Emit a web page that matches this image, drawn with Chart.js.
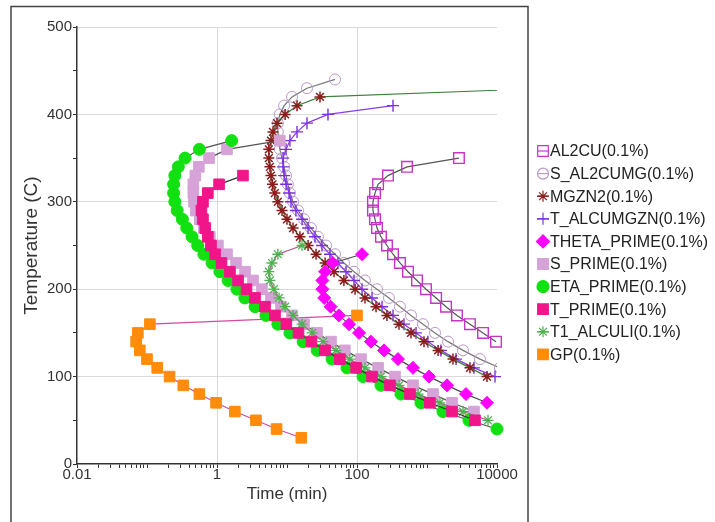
<!DOCTYPE html>
<html>
<head>
<meta charset="utf-8">
<title>TTT diagram</title>
<script src="https://cdn.jsdelivr.net/npm/chart.js@4.4.1/dist/chart.umd.min.js"></script>
<style>
  html, body { margin: 0; padding: 0; background: #fff; }
  #wrap { width: 715px; height: 522px; }
</style>
</head>
<body>
<div id="wrap"><canvas id="ttt" width="715" height="522"></canvas></div>
<script>
// ── Precipitation curves: temperature (C) vs time (min) ─────────────────────

const AL2CU_TEMP = [350, 340, 330, 320, 310, 300, 290, 280, 270, 260, 250, 240, 230, 220, 210, 200, 190, 180, 170, 160, 150, 140];
const AL2CU_TIME = [2860, 518, 277, 200, 181, 169, 169, 181, 193, 220, 268, 327, 411, 535, 720, 968, 1350, 1870, 2680, 4110, 6310, 9680];

const S_AL2CUMG_TEMP = [440, 430, 420, 410, 400, 390, 380, 370, 360, 350, 340, 330, 320, 310, 300, 290, 280, 270, 260, 250, 240, 230, 220, 210, 200, 190, 180, 170, 160, 150, 140, 130, 120, 110];
const S_AL2CUMG_TIME = [48.5, 19.3, 11.8, 9.1, 7.9, 7.4, 7.4, 7.7, 7.9, 8.5, 9.1, 9.7, 10.3, 11.0, 12.2, 14.4, 17.5, 22.0, 27.7, 36.1, 48.5, 65.2, 90.6, 130, 193, 286, 411, 591, 877, 1300, 2000, 3270, 5710, 11000];

const MGZN2_TEMP = [430, 420, 410, 400, 390, 380, 370, 360, 350, 340, 330, 320, 310, 300, 290, 280, 270, 260, 250, 240, 230, 220, 210, 200, 190, 180, 170, 160, 150, 140, 130, 120, 110, 100];
const MGZN2_TIME = [60000, 29.6, 13.9, 9.4, 7.2, 6.3, 5.9, 5.5, 5.5, 5.7, 5.9, 6.2, 6.7, 7.4, 8.5, 10, 12.2, 15.3, 20, 26, 35, 47, 65, 94, 130, 187, 268, 398, 591, 906, 1440, 2350, 4110, 7200];

const T_ALCUMGZN_TEMP = [410, 400, 390, 380, 370, 360, 350, 340, 330, 320, 310, 300, 290, 280, 270, 260, 250, 240, 230, 220, 210, 200, 190, 180, 170, 160, 150, 140, 130, 120, 110, 100];
const T_ALCUMGZN_TIME = [327, 38.5, 19.3, 13.9, 11.0, 9.7, 8.8, 8.8, 9.1, 9.7, 10.7, 11.4, 13.4, 16.4, 20, 25.1, 31.6, 41.1, 53.5, 69.6, 90.6, 118, 164, 228, 327, 469, 697, 1030, 1580, 2600, 4690, 9370];

const THETA_PRIME_TEMP = [240, 230, 220, 210, 200, 190, 180, 170, 160, 150, 140, 130, 120, 110, 100, 90, 80, 70];
const THETA_PRIME_TIME = [118, 45, 35, 32, 32, 34, 42, 55, 77, 107, 158, 243, 385, 631, 1070, 1930, 3610, 7200];

const S_PRIME_TEMP = [370, 360, 350, 340, 330, 320, 310, 300, 290, 280, 270, 260, 250, 240, 230, 220, 210, 200, 190, 180, 170, 160, 150, 140, 130, 120, 110, 100, 90, 80, 70, 60];
const S_PRIME_TIME = [7.9, 1.39, 0.77, 0.55, 0.49, 0.46, 0.46, 0.47, 0.50, 0.57, 0.65, 0.79, 1.03, 1.39, 1.87, 2.51, 3.27, 4.39, 5.9, 8.2, 11.8, 17.5, 26.8, 42.5, 67, 114, 200, 349, 631, 1220, 2280, 4690];

const ETA_PRIME_TEMP = [370, 360, 350, 340, 330, 320, 310, 300, 290, 280, 270, 260, 250, 240, 230, 220, 210, 200, 190, 180, 170, 160, 150, 140, 130, 120, 110, 100, 90, 80, 70, 60, 50, 40];
const ETA_PRIME_TIME = [1.62, 0.56, 0.35, 0.28, 0.25, 0.24, 0.24, 0.25, 0.27, 0.32, 0.37, 0.44, 0.53, 0.65, 0.85, 1.1, 1.44, 1.93, 2.5, 3.5, 5.0, 7.4, 11, 17, 27, 44, 72, 122, 220, 425, 820, 1690, 3980, 10000];

const T_PRIME_TEMP = [330, 320, 310, 300, 290, 280, 270, 260, 250, 240, 230, 220, 210, 200, 190, 180, 170, 160, 150, 140, 130, 120, 110, 100, 90, 80, 70, 60, 50];
const T_PRIME_TIME = [2.35, 1.07, 0.74, 0.63, 0.60, 0.63, 0.68, 0.74, 0.82, 0.94, 1.16, 1.53, 2.0, 2.64, 3.49, 4.85, 6.74, 9.8, 14.6, 22.4, 35, 57, 97, 164, 296, 571, 1100, 2280, 4850];

const T1_ALCULI_TEMP = [250, 240, 230, 220, 210, 200, 190, 180, 170, 160, 150, 140, 130, 120, 110, 100, 90, 80, 70, 60, 50];
const T1_ALCULI_TIME = [16.4, 7.4, 6.1, 5.5, 5.7, 6.5, 7.7, 9.4, 12.2, 16.4, 22.8, 32.7, 50, 79, 130, 220, 398, 743, 1530, 3270, 7440];

const GP_TEMP = [170, 160, 150, 140, 130, 120, 110, 100, 90, 80, 70, 60, 50, 40, 30];
const GP_TIME = [100, 0.11, 0.074, 0.07, 0.079, 0.1, 0.14, 0.21, 0.33, 0.56, 0.97, 1.8, 3.6, 7.1, 16];

// ── Axes ─────────────────────────────────────────────────────────────────────

const X_MIN = 0.01;
const X_MAX = 10000;
const X_DECADES = [0.01, 0.1, 1, 10, 100, 1000];
const X_MULTIPLES = [1, 2, 3, 4, 5, 6, 7, 8, 9];
const X_LABELS = [0.01, 1, 100, 10000];
const X_GRID = [1, 100];

const Y_MIN = 0;
const Y_MAX = 500;
const Y_STEP = 50;
const Y_LABEL_STEP = 100;

const X_TICKS = X_DECADES.flatMap(d => X_MULTIPLES.map(m => m * d)).concat([X_MAX]);

const sameValue = (a, b) => Math.abs(a - b) < Math.abs(b) * 1e-6;

const FONT = '"Liberation Sans", Arial, sans-serif';
const GRID_COLOR = '#d9d9d9';
const AXIS_COLOR = '#333';
const CLEAR = 'rgba(0,0,0,0)';

function points(times, temps) {
    return times.map((t, i) => ({ x: t, y: temps[i] }));
}

function series(label, times, temps, style) {
    return Object.assign({
        label,
        data: points(times, temps),
        showLine: true,
        borderWidth: 1.2,
        pointBorderWidth: 1,
        tension: 0,
        clip: 8,
    }, style);
}

// legend order = dataset order; "order" decides which curve sits on top
const datasets = [
    series('AL2CU(0.1%)', AL2CU_TIME, AL2CU_TEMP, {
        borderColor: '#555', pointStyle: 'rect', pointRadius: 7.5, pointBorderWidth: 1.4,
        pointBorderColor: '#c535c5', pointBackgroundColor: CLEAR, order: 9,
    }),
    series('S_AL2CUMG(0.1%)', S_AL2CUMG_TIME, S_AL2CUMG_TEMP, {
        borderColor: '#777', pointStyle: 'circle', pointRadius: 5.5,
        pointBorderColor: '#b99ac9', pointBackgroundColor: CLEAR, order: 8, clip: 0,
    }),
    series('MGZN2(0.1%)', MGZN2_TIME, MGZN2_TEMP, {
        borderColor: '#3f7f3f', pointStyle: 'star', pointRadius: 5.5, pointBorderWidth: 1.5,
        pointBorderColor: '#8b1c1c', pointBackgroundColor: '#8b1c1c', order: 6, clip: 0,
    }),
    series('T_ALCUMGZN(0.1%)', T_ALCUMGZN_TIME, T_ALCUMGZN_TEMP, {
        borderColor: '#8a3ce6', pointStyle: 'cross', pointRadius: 6, pointBorderWidth: 1.4,
        pointBorderColor: '#7b2fe0', pointBackgroundColor: '#7b2fe0', order: 7,
    }),
    series('THETA_PRIME(0.1%)', THETA_PRIME_TIME, THETA_PRIME_TEMP, {
        borderColor: '#4a4a4a', pointStyle: 'rectRot', pointRadius: 6.5,
        pointBorderColor: '#ff00ff', pointBackgroundColor: '#ff00ff', order: 5,
    }),
    series('S_PRIME(0.1%)', S_PRIME_TIME, S_PRIME_TEMP, {
        borderColor: '#555', pointStyle: 'rect', pointRadius: 7.5,
        pointBorderColor: '#d6a2d8', pointBackgroundColor: '#d6a2d8', order: 4,
    }),
    series('ETA_PRIME(0.1%)', ETA_PRIME_TIME, ETA_PRIME_TEMP, {
        borderColor: '#555', pointStyle: 'circle', pointRadius: 6,
        pointBorderColor: '#11e011', pointBackgroundColor: '#11e011', order: 3,
    }),
    series('T_PRIME(0.1%)', T_PRIME_TIME, T_PRIME_TEMP, {
        borderColor: '#333', pointStyle: 'rect', pointRadius: 7.5,
        pointBorderColor: '#f0168a', pointBackgroundColor: '#f0168a', order: 1,
    }),
    series('T1_ALCULI(0.1%)', T1_ALCULI_TIME, T1_ALCULI_TEMP, {
        borderColor: '#b0558c', pointStyle: 'star', pointRadius: 5.5, pointBorderWidth: 1.3,
        pointBorderColor: '#4cb34c', pointBackgroundColor: '#4cb34c', order: 2,
    }),
    series('GP(0.1%)', GP_TIME, GP_TEMP, {
        borderColor: '#d44a9c', pointStyle: 'rect', pointRadius: 7.5,
        pointBorderColor: '#ff8c0a', pointBackgroundColor: '#ff8c0a', order: 10,
    }),
];

// ── Plugins: white page with a frame, legend on the right ───────────────────

const framePlugin = {
    id: 'frame',
    beforeDraw(chart) {
        const ctx = chart.ctx;
        ctx.save();
        ctx.fillStyle = '#fff';
        ctx.fillRect(0, 0, chart.width, chart.height);
        ctx.strokeStyle = '#444';
        ctx.lineWidth = 1.5;
        ctx.strokeRect(11, 6.5, 517, chart.height + 10);
        ctx.restore();
    },
};

const LEGEND_X = 543;
const LEGEND_TOP = 151;
const LEGEND_STEP = 22.6;

const sideLegendPlugin = {
    id: 'sideLegend',
    afterDraw(chart) {
        const ctx = chart.ctx;
        ctx.save();
        ctx.font = '16px ' + FONT;
        ctx.textBaseline = 'middle';
        chart.data.datasets.forEach((ds, i) => {
            const y = LEGEND_TOP + i * LEGEND_STEP;
            ctx.strokeStyle = ds.pointBorderColor;
            ctx.lineWidth = 1.2;
            ctx.beginPath();
            ctx.moveTo(LEGEND_X - 6, y);
            ctx.lineTo(LEGEND_X + 6, y);
            ctx.stroke();
            ctx.fillStyle = ds.pointBackgroundColor;
            Chart.helpers.drawPoint(ctx, {
                pointStyle: ds.pointStyle,
                radius: ds.pointRadius,
                rotation: 0,
                borderWidth: ds.pointBorderWidth,
            }, LEGEND_X, y);
            ctx.fillStyle = '#222';
            ctx.fillText(ds.label, LEGEND_X + 7, y + 1);
        });
        ctx.restore();
    },
};

Chart.defaults.font.family = FONT;
Chart.defaults.color = '#333';

new Chart(document.getElementById('ttt'), {
    type: 'scatter',
    data: { datasets },
    options: {
        responsive: false,
        animation: false,
        devicePixelRatio: 1,
        events: [],
        layout: { padding: { left: 12, top: 27, right: 218, bottom: 0 } },
        plugins: {
            legend: { display: false },
            tooltip: { enabled: false },
        },
        scales: {
            x: {
                type: 'logarithmic',
                min: X_MIN,
                max: X_MAX,
                afterBuildTicks: (scale) => { scale.ticks = X_TICKS.map(v => ({ value: v })); },
                afterFit: (scale) => { scale.height = 58; },
                ticks: {
                    autoSkip: false,
                    maxRotation: 0,
                    minRotation: 0,
                    padding: -2,
                    color: '#333',
                    font: { size: 15 },
                    callback: (v) => {
                        const lab = X_LABELS.find(l => sameValue(v, l));
                        return lab === undefined ? '' : String(lab);
                    },
                },
                grid: {
                    color: (c) => c.tick && X_GRID.some(g => sameValue(c.tick.value, g)) ? GRID_COLOR : CLEAR,
                    tickColor: AXIS_COLOR,
                    tickLength: 4,
                    lineWidth: 1,
                },
                border: { color: AXIS_COLOR, width: 1.5 },
                title: {
                    display: true,
                    text: 'Time (min)',
                    color: '#333',
                    font: { size: 17 },
                    padding: { top: 0, bottom: 17 },
                },
            },
            y: {
                type: 'linear',
                min: Y_MIN,
                max: Y_MAX,
                afterFit: (scale) => { scale.width = 65; },
                ticks: {
                    stepSize: Y_STEP,
                    padding: 1,
                    color: '#333',
                    font: { size: 15 },
                    callback: (v) => v % Y_LABEL_STEP === 0 ? String(v) : '',
                },
                grid: {
                    color: (c) => c.tick && c.tick.value > 0 && c.tick.value % Y_LABEL_STEP === 0 ? GRID_COLOR : CLEAR,
                    tickColor: AXIS_COLOR,
                    tickLength: 4,
                    lineWidth: 1,
                },
                border: { color: AXIS_COLOR, width: 1.5 },
                title: {
                    display: true,
                    text: 'Temperature (C)',
                    color: '#333',
                    font: { size: 19 },
                    padding: { top: 8, bottom: 0 },
                },
            },
        },
    },
    plugins: [framePlugin, sideLegendPlugin],
});
</script>
</body>
</html>
